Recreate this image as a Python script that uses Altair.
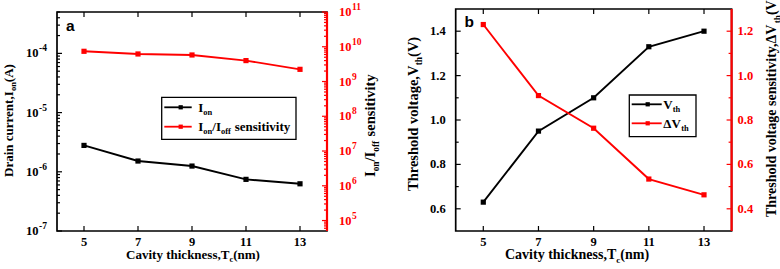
import altair as alt
import pandas as pd

# ---------------- data ----------------
T = [5, 7, 9, 11, 13]
I_ON = [2.79e-6, 1.52e-6, 1.25e-6, 7.45e-7, 6.27e-7]
ON_OFF = [7.4e9, 6.2e9, 5.8e9, 4.0e9, 2.24e9]
VTH = [0.63, 0.95, 1.10, 1.33, 1.40]
DVTH = [1.23, 0.91, 0.763, 0.534, 0.463]

X_TICKS = [5, 7, 9, 11, 13]
A_LEFT_EXP = [-7, -6, -5, -4]
A_RIGHT_EXP = [5, 6, 7, 8, 9, 10, 11]
B_LEFT_TICKS = [0.6, 0.8, 1.0, 1.2, 1.4]
B_LEFT_MINOR = [0.7, 0.9, 1.1, 1.3]
B_RIGHT_TICKS = [0.4, 0.6, 0.8, 1.0, 1.2]
B_RIGHT_MINOR = [0.5, 0.7, 0.9, 1.1]

# ---------------- layout ----------------
W, H = 780, 269
AX0, AX1, AY0, AY1 = 57, 327, 12, 231
BX0, BX1, BY0, BY1 = 455.7, 731.6, 9, 231
RED = "#ff0000"
SERIF = "Liberation Serif"
SANS = "Liberation Sans"

# Times-bold-like advance widths (em) for placing sub/superscript pieces
M = {" ": .25, "(": .333, ")": .333, ",": .25, "-": .333, ".": .25, "/": .278,
     "A": .722, "C": .722, "D": .722, "I": .389, "T": .667, "V": .722, "Δ": .65,
     "a": .5, "c": .444, "d": .556, "e": .444, "f": .333, "g": .5, "h": .556,
     "i": .278, "k": .556, "l": .278, "m": .833, "n": .556, "o": .5, "r": .444,
     "s": .389, "t": .333, "u": .556, "v": .5, "y": .5}


def tw(s, size):
    return sum(M.get(c, .5) for c in s) * size


SUB = 0.65


def piece_w(t, k, size):
    if k == "g":
        return float(t) * size
    return tw(t, size * (1 if k == "n" else SUB))


def pieces_len(pieces, size):
    return sum(piece_w(t, k, size) for t, k in pieces)


def horiz(pieces, x0, base, size, col="black"):
    rows, off = [], 0.0
    for t, k in pieces:
        if k != "g":
            fs = size if k == "n" else size * SUB
            sh = 0 if k == "n" else size * 0.25
            rows.append(dict(px=x0 + off, py=base + sh, txt=t, fs=fs, ang=0, col=col))
        off += piece_w(t, k, size)
    return rows


def vert(pieces, bx, y0, size, col="black"):
    rows, off = [], 0.0
    for t, k in pieces:
        if k != "g":
            fs = size if k == "n" else size * SUB
            sh = 0 if k == "n" else size * 0.25
            rows.append(dict(px=bx + sh, py=y0 - off, txt=t, fs=fs, ang=270, col=col))
        off += piece_w(t, k, size)
    return rows


# ---------------- scales ----------------
sxa = alt.Scale(domain=[4, 14], range=[AX0, AX1], nice=False, zero=False)
sya_l = alt.Scale(type="log", domain=[1e-7, 5e-4], range=[AY1, AY0], nice=False)
sya_r = alt.Scale(type="log", domain=[5e4, 1e11], range=[AY1, AY0], nice=False)
sxb = alt.Scale(domain=[4, 14], range=[BX0, BX1], nice=False, zero=False)
syb_l = alt.Scale(domain=[0.5, 1.5], range=[BY1, BY0], nice=False, zero=False)
syb_r = alt.Scale(domain=[0.3, 1.3], range=[BY1, BY0], nice=False, zero=False)

dummy = pd.DataFrame({"k": [0]})
layers = []


def frame(x0, x1, y0, y1):
    return alt.Chart(dummy).mark_rect(fill="transparent", stroke="black", strokeWidth=1.7).encode(
        x=alt.value(x0), x2=alt.value(x1), y=alt.value(y0), y2=alt.value(y1))


def series(df, yf, xs, ys, color):
    base = alt.Chart(df).encode(x=alt.X("T:Q", scale=xs, axis=None),
                                y=alt.Y(f"{yf}:Q", scale=ys, axis=None))
    return [base.mark_line(color=color, strokeWidth=1.9),
            base.mark_point(shape="square", filled=True, size=27, color=color, opacity=1)]


def yrules(vals, ys, xa, xb, color, sw=1.2):
    return alt.Chart(pd.DataFrame({"v": vals})).mark_rule(color=color, strokeWidth=sw).encode(
        y=alt.Y("v:Q", scale=ys, axis=None), x=alt.value(xa), x2=alt.value(xb))


def xrules(vals, xs, ya, yb):
    return alt.Chart(pd.DataFrame({"v": vals})).mark_rule(color="black", strokeWidth=1.2).encode(
        x=alt.X("v:Q", scale=xs, axis=None), y=alt.value(ya), y2=alt.value(yb))


def ylabels(df, ys, x, align, color, size=12, dy=0, field="lab"):
    return alt.Chart(df).mark_text(font=SERIF, fontWeight="bold", fontSize=size, align=align,
                                   baseline="middle", color=color, dy=dy).encode(
        y=alt.Y("v:Q", scale=ys, axis=None), x=alt.value(x), text=f"{field}:N")


def xlabels(xs):
    df = pd.DataFrame({"v": X_TICKS, "lab": [str(v) for v in X_TICKS]})
    return alt.Chart(df).mark_text(font=SERIF, fontWeight="bold", fontSize=12.5, align="center",
                                   baseline="alphabetic", color="black").encode(
        x=alt.X("v:Q", scale=xs, axis=None), y=alt.value(246), text="lab:N")


df_a = pd.DataFrame({"T": T, "Ion": I_ON, "R": ON_OFF})
df_b = pd.DataFrame({"T": T, "Vth": VTH, "dV": DVTH})

# ---------------- panel a ----------------
layers.append(frame(AX0, AX1, AY0, AY1))
layers += series(df_a, "Ion", sxa, sya_l, "black")
layers += series(df_a, "R", sxa, sya_r, RED)
layers.append(alt.Chart(dummy).mark_rule(color=RED, strokeWidth=2.2).encode(
    x=alt.value(AX1), y=alt.value(AY0), y2=alt.value(AY1)))

a_left_major = [10.0 ** e for e in A_LEFT_EXP]
a_left_minor = [m * 10.0 ** e for e in A_LEFT_EXP for m in range(2, 10) if m * 10.0 ** e <= 5e-4]
a_right_major = [10.0 ** e for e in A_RIGHT_EXP]
a_right_minor = [m * 10.0 ** e for e in range(4, 11) for m in range(2, 10)
                 if 5e4 < m * 10.0 ** e < 1e11]
layers.append(yrules(a_left_major, sya_l, AX0, AX0 + 5, "black"))
layers.append(yrules(a_left_minor, sya_l, AX0, AX0 + 3, "black"))
layers.append(yrules(a_right_major, sya_r, AX1 - 5, AX1, RED))
layers.append(yrules(a_right_minor, sya_r, AX1 - 3, AX1, RED))
layers.append(xrules(X_TICKS, sxa, AY1, AY1 - 5))
layers.append(xrules(X_TICKS, sxa, AY0, AY0 + 5))
layers.append(xlabels(sxa))

lab_al = pd.DataFrame({"v": a_left_major, "base": ["10"] * len(A_LEFT_EXP),
                       "exp": [f"-{abs(e)}" for e in A_LEFT_EXP]})
w_exp = tw("-4", 9.5)
layers.append(ylabels(lab_al, sya_l, AX0 - 10, "right", "black", size=9.5, dy=-5, field="exp"))
layers.append(ylabels(lab_al, sya_l, AX0 - 10.5 - w_exp, "right", "black", size=12.5, field="base"))
lab_ar = pd.DataFrame({"v": a_right_major, "base": ["10"] * len(A_RIGHT_EXP),
                       "exp": [str(e) for e in A_RIGHT_EXP]})
layers.append(ylabels(lab_ar, sya_r, AX1 + 12, "left", RED, size=12.5, field="base"))
layers.append(ylabels(lab_ar, sya_r, AX1 + 12.5 + tw("10", 12.5), "left", RED, size=9.5, dy=-5,
                      field="exp"))

# ---------------- panel b ----------------
layers.append(frame(BX0, BX1, BY0, BY1))
layers += series(df_b, "Vth", sxb, syb_l, "black")
layers += series(df_b, "dV", sxb, syb_r, RED)
layers.append(alt.Chart(dummy).mark_rule(color=RED, strokeWidth=2.2).encode(
    x=alt.value(BX1), y=alt.value(BY0), y2=alt.value(BY1)))
layers.append(yrules(B_LEFT_TICKS, syb_l, BX0, BX0 + 5, "black"))
layers.append(yrules(B_LEFT_MINOR, syb_l, BX0, BX0 + 3, "black"))
layers.append(yrules(B_RIGHT_TICKS, syb_r, BX1 - 5, BX1, RED))
layers.append(yrules(B_RIGHT_MINOR, syb_r, BX1 - 3, BX1, RED))
layers.append(xrules(X_TICKS, sxb, BY1, BY1 - 5))
layers.append(xrules(X_TICKS, sxb, BY0, BY0 + 5))
layers.append(xlabels(sxb))
lab_bl = pd.DataFrame({"v": B_LEFT_TICKS, "lab": [f"{v:.1f}" for v in B_LEFT_TICKS]})
lab_br = pd.DataFrame({"v": B_RIGHT_TICKS, "lab": [f"{v:.1f}" for v in B_RIGHT_TICKS]})
layers.append(ylabels(lab_bl, syb_l, BX0 - 10, "right", "black", size=12.5))
layers.append(ylabels(lab_br, syb_r, BX1 + 6, "left", RED, size=12.5))


# ---------------- legends ----------------
def legend_box(x0, x1, y0, y1):
    return alt.Chart(dummy).mark_rect(fill="white", stroke="black", strokeWidth=1.3).encode(
        x=alt.value(x0), x2=alt.value(x1), y=alt.value(y0), y2=alt.value(y1))


def legend_key(xa, xb, xm, y, color):
    return [alt.Chart(dummy).mark_rule(color=color, strokeWidth=1.8).encode(
                x=alt.value(xa), x2=alt.value(xb), y=alt.value(y)),
            alt.Chart(dummy).mark_point(shape="square", filled=True, size=18, color=color, opacity=1).encode(
                x=alt.value(xm), y=alt.value(y))]


layers.append(legend_box(161.7, 296, 97.3, 139.3))
layers += legend_key(164.3, 191.7, 180.7, 107.3, "black")
layers += legend_key(164.3, 191.7, 180.7, 126.7, RED)
layers.append(legend_box(629.3, 696, 95, 136.7))
layers += legend_key(631.7, 661.7, 647.7, 104.3, "black")
layers += legend_key(631.7, 661.7, 647.7, 123.3, RED)

# ---------------- texts with subscripts ----------------
ann = []
ann += horiz([("I", "n"), ("on", "s")], 198.3, 111.6, 13)
ann += horiz([("I", "n"), ("on", "s"), ("/I", "n"), ("off", "s"), ("0.3", "g"), ("sensitivity", "n")],
             198.3, 131, 13)
ann += horiz([("V", "n"), ("th", "s")], 663.3, 108.6, 13)
ann += horiz([("ΔV", "n"), ("th", "s")], 663.3, 127.6, 13)

xt = [("Cavity thickness,T", "n"), ("c", "s"), ("(nm)", "n")]
ann += horiz(xt, 193 - pieces_len(xt, 13) / 2, 259, 13)
ann += horiz(xt, 505, 259, 14)

ann += vert([("Drain current,I", "n"), ("on", "s"), ("(A)", "n")], 12.5, 177, 13)
ann += vert([("I", "n"), ("on", "s"), ("/I", "n"), ("off", "s"), ("0.3", "g"), ("sensitivity", "n")],
            375, 177, 14.5)
ann += vert([("Threshold voltage,V", "n"), ("th", "s"), ("(V)", "n")], 418, 191, 14.5)
ann += vert([("Threshold voltage sensitivity,ΔV", "n"), ("th", "s"), ("(V)", "n")], 776, 217, 14)

ann_df = pd.DataFrame(ann)
layers.append(alt.Chart(ann_df).mark_text(font=SERIF, fontWeight="bold", align="left",
                                          baseline="alphabetic").encode(
    x=alt.X("px:Q", scale=None), y=alt.Y("py:Q", scale=None), text="txt:N",
    size=alt.Size("fs:Q", scale=None, legend=None),
    angle=alt.Angle("ang:Q", scale=None),
    color=alt.Color("col:N", scale=None, legend=None)))

# panel letters
layers.append(alt.Chart(dummy).mark_text(font=SANS, fontWeight="bold", fontSize=15.5, align="left",
                                         baseline="alphabetic", color="black").encode(
    x=alt.value(66), y=alt.value(30.7), text=alt.value("a")))
layers.append(alt.Chart(dummy).mark_text(font=SANS, fontWeight="bold", fontSize=15.5, align="left",
                                         baseline="alphabetic", color="black").encode(
    x=alt.value(464.5), y=alt.value(26.7), text=alt.value("b")))

chart = alt.layer(*layers).resolve_scale(x="independent", y="independent").properties(
    width=W, height=H, autosize=alt.AutoSizeParams(type="none"), padding=0,
    background="white").configure_view(stroke="transparent")

chart.save("out.html", embed_options={"renderer": "svg", "actions": False})
